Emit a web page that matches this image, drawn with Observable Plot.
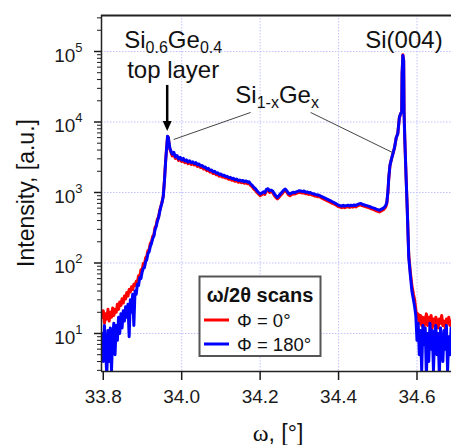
<!DOCTYPE html>
<html><head><meta charset="utf-8">
<script src="https://cdn.jsdelivr.net/npm/d3@7"></script>
<script src="https://cdn.jsdelivr.net/npm/@observablehq/plot@0.6"></script>
<style>
html,body{margin:0;padding:0;background:#fff;}
#chart{width:451px;height:445px;overflow:hidden;}
svg{display:block;}
</style></head><body><div id="chart"></div>
<script>
// omega (deg)
const omega = [
  // left tail + SiGe top-layer peak
  33.797, 33.800, 33.803, 33.806, 33.809, 33.812, 33.815, 33.818, 33.821, 33.824,
  33.827, 33.830, 33.833, 33.836, 33.839, 33.842, 33.845, 33.848, 33.851, 33.854,
  33.857, 33.860, 33.863, 33.866, 33.869, 33.872, 33.875, 33.878, 33.881, 33.884,
  33.887, 33.890, 33.893, 33.896, 33.899, 33.902, 33.905, 33.908, 33.911, 33.914,
  33.917, 33.920, 33.923, 33.926, 33.929, 33.932, 33.935, 33.938, 33.941, 33.944,
  33.947, 33.950, 33.953, 33.956, 33.959, 33.962, 33.964, 33.966, 33.968, 33.970,
  // graded-layer plateau
  33.972, 33.976, 33.980, 33.984, 33.988, 33.992, 33.996, 34.000, 34.004, 34.008,
  34.012, 34.016, 34.020, 34.024, 34.028, 34.032, 34.036, 34.040, 34.044, 34.048,
  34.052, 34.056, 34.060, 34.064, 34.068, 34.072, 34.076, 34.080, 34.084, 34.088,
  34.092, 34.096, 34.100, 34.104, 34.108, 34.112, 34.116, 34.120, 34.124, 34.128,
  34.132, 34.136, 34.140, 34.144, 34.148, 34.152, 34.156, 34.160, 34.164, 34.168,
  34.172, 34.176, 34.180, 34.184, 34.188, 34.192, 34.196, 34.200, 34.204, 34.208,
  34.212, 34.216, 34.220, 34.224, 34.228, 34.232, 34.236, 34.240, 34.244, 34.248,
  34.252, 34.256, 34.260, 34.264, 34.268, 34.272, 34.276, 34.280, 34.284, 34.288,
  34.292, 34.296, 34.300, 34.304, 34.308, 34.312, 34.316, 34.320, 34.324, 34.328,
  34.332, 34.336, 34.340, 34.344, 34.348, 34.352, 34.356, 34.360, 34.364, 34.368,
  34.372, 34.376, 34.380, 34.384, 34.388, 34.392, 34.396, 34.400, 34.404, 34.408,
  34.412, 34.416, 34.420, 34.424, 34.428, 34.432, 34.436, 34.440, 34.444, 34.448,
  34.452, 34.456, 34.460, 34.464, 34.468, 34.472, 34.476, 34.480, 34.484, 34.488,
  34.492, 34.496, 34.500, 34.504, 34.508, 34.512, 34.516, 34.520,
  // Si(004) substrate peak
  34.523, 34.526, 34.528, 34.531, 34.535, 34.539, 34.543, 34.547, 34.551, 34.555,
  34.558, 34.561, 34.562, 34.564, 34.566, 34.567, 34.569, 34.572, 34.575, 34.579,
  34.583, 34.587, 34.591, 34.594,
  // right tail
  34.597, 34.600, 34.603, 34.606, 34.609, 34.612, 34.615, 34.618, 34.621, 34.624,
  34.627, 34.630, 34.633, 34.636, 34.639, 34.642, 34.645, 34.648, 34.651, 34.654,
  34.657, 34.660, 34.663, 34.666, 34.669, 34.672, 34.675, 34.678, 34.681, 34.684,
  34.687, 34.690
];
// Phi = 0 deg (red)
const phi0 = [
  17, 21, 14, 19, 16, 22, 15, 20, 17, 23,
  18, 22, 20, 26, 22, 28, 25, 31, 27, 34,
  31, 38, 34, 42, 39, 46, 42, 50, 48, 55,
  54, 66, 64, 80, 78, 98, 96, 118, 125, 150,
  155, 190, 200, 240, 250, 320, 340, 420, 450, 560,
  640, 740, 900, 1500, 2800, 4600, 6200, 6000, 4800, 4100,
  3800, 3300, 3450, 3050, 3150, 2850, 2950, 2750, 2900, 2650,
  2780, 2550, 2680, 2500, 2600, 2450, 2520, 2350, 2420, 2260,
  2300, 2150, 2200, 2040, 2090, 1950, 1980, 1860, 1900, 1780,
  1810, 1700, 1740, 1650, 1670, 1600, 1610, 1540, 1560, 1490,
  1500, 1440, 1470, 1400, 1420, 1380, 1400, 1350, 1380, 1330,
  1340, 1250, 1200, 1120, 1070, 1000, 950, 900, 930, 970,
  940, 1050, 1080, 1000, 1030, 1000, 910, 850, 810, 850,
  910, 960, 1030, 1070, 1010, 930, 900, 930, 960, 950,
  970, 990, 1010, 1000, 980, 1000, 960, 970, 940, 950,
  920, 910, 890, 880, 870, 870, 840, 820, 800, 780,
  760, 740, 720, 700, 690, 670, 650, 630, 620, 610,
  630, 610, 620, 630, 615, 630, 620, 635, 625, 645,
  660, 670, 650, 640, 630, 620, 610, 600, 585, 575,
  565, 550, 540, 530, 545, 560, 580, 620,
  690, 1020, 1580, 2400, 3000, 3600, 4400, 6000, 6800, 11500,
  13000, 14000, 48000, 90000, 75000, 14000, 5500, 1800, 630, 130,
  75, 48, 36, 30,
  22, 16, 19, 14, 18, 13, 17, 12, 16, 19,
  13, 17, 14, 18, 12, 16, 13, 17, 15, 12,
  16, 14, 18, 13, 15, 12, 16, 14, 17, 13,
  15, 14
];
// Phi = 180 deg (blue)
const phi180 = [
  10, 4, 13, 6, 2.5, 11, 4, 12, 3, 9,
  14, 5, 13, 8, 17, 10, 19, 12, 21, 15,
  24, 17, 26, 9, 30, 20, 36, 13, 40, 36,
  50, 48, 62, 60, 74, 84, 86, 104, 112, 136,
  145, 172, 190, 222, 240, 296, 330, 395, 440, 535,
  630, 725, 880, 1450, 2750, 4600, 6300, 6000, 4900, 4200,
  3950, 3500, 3700, 3200, 3350, 3000, 3150, 2900, 3050, 2800,
  2900, 2700, 2820, 2650, 2720, 2580, 2650, 2480, 2540, 2380,
  2420, 2280, 2300, 2150, 2200, 2060, 2080, 1960, 2000, 1880,
  1900, 1800, 1830, 1740, 1760, 1680, 1700, 1620, 1640, 1570,
  1590, 1520, 1550, 1480, 1500, 1450, 1480, 1420, 1460, 1400,
  1420, 1320, 1260, 1180, 1130, 1060, 1000, 950, 980, 1020,
  990, 1110, 1130, 1060, 1080, 1050, 960, 900, 850, 900,
  960, 1010, 1080, 1120, 1060, 980, 950, 980, 1010, 990,
  1020, 1040, 1060, 1050, 1030, 1050, 1010, 1020, 990, 1000,
  970, 960, 940, 930, 920, 910, 880, 860, 840, 820,
  800, 780, 760, 740, 720, 700, 680, 660, 650, 640,
  660, 640, 650, 660, 645, 660, 650, 665, 655, 675,
  690, 700, 680, 670, 660, 650, 640, 630, 615, 605,
  595, 580, 570, 560, 575, 590, 610, 650,
  720, 1050, 1600, 2400, 3000, 3600, 4400, 6000, 6800, 11500,
  13000, 14000, 48000, 88000, 74000, 14000, 5500, 1750, 610, 120,
  68, 40, 30, 24,
  18, 8, 14, 5, 11, 3, 13, 7, 12, 2.5,
  10, 4, 14, 6, 11, 3, 9, 13, 5, 10,
  2.5, 12, 7, 4, 11, 6, 13, 3, 9, 5,
  12, 8
];
const xTicks = [33.8, 34.0, 34.2, 34.4, 34.6];
const yMajor = [1e1, 1e2, 1e3, 1e4, 1e5];
const yMinor = [3, 4, 5, 6, 7, 8, 9,
  20, 30, 40, 50, 60, 70, 80, 90,
  200, 300, 400, 500, 600, 700, 800, 900,
  2000, 3000, 4000, 5000, 6000, 7000, 8000, 9000,
  20000, 30000, 40000, 50000, 60000, 70000, 80000, 90000,
  200000, 300000];
const seriesNames = ["Φ = 0°", "Φ = 180°"];
const seriesColors = ["#ff0000", "#0000ff"];
const leaders = [
  {x1: 34.1758, y1: 13650, x2: 33.9796, y2: 5650},
  {x1: 34.3287, y1: 13650, x2: 34.5376, y2: 3690}
];

if (phi0.length !== omega.length || phi180.length !== omega.length)
  throw new Error("length mismatch " + omega.length + " " + phi0.length + " " + phi180.length);

const scan = omega.map((w, i) => ({omega: w, phi0: phi0[i], phi180: phi180[i]}));
const FONT = "'Liberation Sans', Arial, Helvetica, sans-serif";
const grid = {stroke: "#c2c2ff", strokeOpacity: 1, strokeWidth: 1, strokeDasharray: "1.5,1.5"};
const xDom = [33.7955, 34.688], yDom = [2.89, 324000];

const plot = Plot.plot({
  width: 451, height: 445,
  marginTop: 15, marginRight: 0, marginBottom: 74, marginLeft: 101,
  style: {fontFamily: FONT, fontSize: "19px", color: "#1a1a1a", background: "#fff", overflow: "visible"},
  x: {domain: xDom},
  y: {type: "log", domain: yDom},
  marks: [
    Plot.gridX(xTicks.slice(1), grid),
    Plot.gridY(yMajor, grid),
    Plot.line(scan, {x: "omega", y: "phi0", stroke: seriesColors[0], strokeWidth: 3, strokeLinejoin: "round", clip: true}),
    Plot.line(scan, {x: "omega", y: "phi180", stroke: seriesColors[1], strokeWidth: 3, strokeLinejoin: "round", clip: true}),
    Plot.link(leaders, {x1: "x1", y1: "y1", x2: "x2", y2: "y2", stroke: "#444", strokeWidth: 1}),
    Plot.ruleY([yDom[1]], {stroke: "#222", strokeWidth: 2.2}),
    Plot.ruleX([xDom[0]], {stroke: "#222", strokeWidth: 1.5}),
    Plot.ruleY([yDom[0]], {stroke: "#222", strokeWidth: 1.5}),
    Plot.axisX({ticks: xTicks, tickSize: 9, tickPadding: 9, tickFormat: d => d.toFixed(1), label: null, strokeWidth: 1.5}),
    Plot.axisY({ticks: yMinor, tickSize: 4, tickFormat: () => "", label: null}),
    Plot.axisY({ticks: yMajor, tickSize: 7, tickPadding: 12, tickFormat: d => "10^" + Math.round(Math.log10(d)), label: null, strokeWidth: 1.5})
  ]
});
document.getElementById("chart").appendChild(plot);
const svg = d3.select(plot);

// superscript tick labels
svg.selectAll("text").each(function () {
  const m = /^10\^(\d)$/.exec(this.textContent);
  if (!m) return;
  const s = d3.select(this);
  s.text(null).attr("y", "0.55em");
  s.append("tspan").text("10");
  s.append("tspan").attr("dy", -10).attr("font-size", 13).text(m[1]);
});

const X = plot.scale("x"), Y = plot.scale("y");
const sx = v => X.apply(v), sy = v => Y.apply(v);
const g = svg.append("g").attr("font-family", FONT).attr("fill", "#111").attr("font-size", 24).attr("text-anchor", "middle");

function subText(x, y, parts) {
  const t = g.append("text").attr("x", x).attr("y", y);
  let prevSub = false;
  parts.forEach(([s, sub]) => {
    if (sub) t.append("tspan").attr("font-size", 16).attr("dy", prevSub ? 0 : 5).text(s);
    else t.append("tspan").attr("dy", prevSub ? -5 : 0).text(s);
    prevSub = !!sub;
  });
}
subText(sx(33.9796), sy(1.09e5), [["Si"], ["0.6", 1], ["Ge"], ["0.4", 1]]);
g.append("text").attr("x", sx(33.9796)).attr("y", sy(41400)).text("top layer");
g.append("text").attr("x", sx(34.568)).attr("y", sy(1.09e5)).text("Si(004)");
subText(sx(34.2446), sy(18300), [["Si"], ["1-x", 1], ["Ge"], ["x", 1]]);

// arrow to top-layer peak
const ax = sx(33.9643), ay1 = sy(33000), ay2 = sy(7330);
g.append("line").attr("x1", ax).attr("x2", ax).attr("y1", ay1).attr("y2", ay2 - 8).attr("stroke", "#000").attr("stroke-width", 2.5);
g.append("path").attr("d", `M${ax - 4.5},${ay2 - 10}L${ax + 4.5},${ay2 - 10}L${ax},${ay2}Z`).attr("fill", "#000");

// axis titles
g.append("text").attr("transform", "translate(33.5,193) rotate(-90)").attr("font-size", 23).text("Intensity, [a.u.]");
const xl = g.append("text").attr("x", 278).attr("y", 441).attr("font-size", 23);
xl.append("tspan").attr("font-family", "'Liberation Serif', 'Times New Roman', serif").attr("font-size", 24).text("ω");
xl.append("tspan").text(", [°]");

// legend
const lg = svg.append("g").attr("font-family", FONT).attr("text-anchor", "start");
lg.append("rect").attr("x", 199.5).attr("y", 276.5).attr("width", 121).attr("height", 79.5)
  .attr("fill", "#fff").attr("stroke", "#555").attr("stroke-width", 2);
lg.append("text").attr("x", 260).attr("y", 301.5).attr("text-anchor", "middle").attr("font-weight", "bold").attr("font-size", 20).attr("fill", "#111").text("ω/2θ scans");
seriesNames.forEach((name, i) => {
  const yy = 320 + i * 24;
  lg.append("line").attr("x1", 204).attr("x2", 229).attr("y1", yy).attr("y2", yy).attr("stroke", seriesColors[i]).attr("stroke-width", 3);
  lg.append("text").attr("x", 237).attr("y", yy + 6.5).attr("text-anchor", "start").attr("font-size", 18.5).attr("fill", "#111").text(name);
});
</script></body></html>
